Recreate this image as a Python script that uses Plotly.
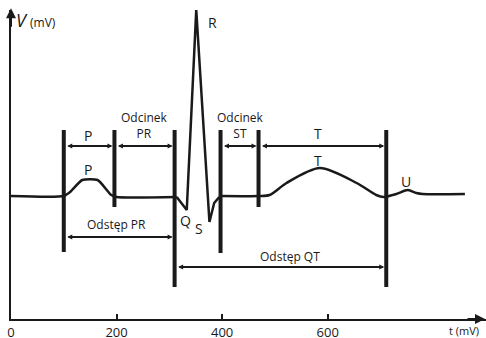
import plotly.graph_objects as go

# ECG trace (t in ms-ish units, v in mV-ish units)
p_t = [0, 100, 112, 135, 164, 190, 200, 314]
p_v = [0, 0, 0.04, 0.16, 0.16, 0.01, -0.01, -0.01]

qrs_t = [314, 333, 351, 376, 385, 393, 400]
qrs_v = [-0.01, -0.14, 1.86, -0.26, -0.07, -0.02, 0]

t_t = [400, 470, 490, 522, 585, 655, 692, 706, 730, 752, 768, 780, 860]
t_v = [0, 0, 0.01, 0.13, 0.28, 0.13, 0.01, -0.01, 0.02, 0.06, 0.03, 0.02, 0.02]

# vertical markers
bar_t = [100, 196, 310, 397, 469, 711]
bar_top = [0.66, 0.66, 0.66, 0.66, 0.66, 0.66]
bar_bottom = [-0.56, -0.11, -0.91, -0.57, -0.11, -0.91]

# interval arrows
int_start = [100, 196, 397, 469, 100, 310]
int_end = [196, 310, 469, 711, 310, 711]
int_v = [0.50, 0.50, 0.50, 0.50, -0.41, -0.71]

# labels
lab_text = ["P", "Odcinek<br>PR", "Odcinek<br>ST", "T", "P", "T", "U", "Q", "S", "R",
            "Odstęp PR", "Odstęp QT"]
lab_t = [145, 253, 434, 581, 145, 581, 749, 331, 357, 382, 200, 528]
lab_v = [0.61, 0.71, 0.71, 0.63, 0.27, 0.36, 0.15, -0.24, -0.32, 1.74, -0.28, -0.60]
lab_size = [14, 12, 12, 14, 14, 14, 14, 14, 14, 14, 12, 12]

tick_vals = [0, 200, 400, 600]

ink = "#1a1a1a"
font = "Open Sans"

fig = go.Figure()

fig.add_trace(go.Scatter(x=p_t, y=p_v, mode="lines",
                         line=dict(color=ink, width=2.5, shape="spline", smoothing=0.6)))
fig.add_trace(go.Scatter(x=qrs_t, y=qrs_v, mode="lines",
                         line=dict(color=ink, width=2.5)))
fig.add_trace(go.Scatter(x=t_t, y=t_v, mode="lines",
                         line=dict(color=ink, width=2.5, shape="spline", smoothing=0.8)))

for t, top, bot in zip(bar_t, bar_top, bar_bottom):
  fig.add_trace(go.Scatter(x=[t, t], y=[top, bot], mode="lines",
                           line=dict(color=ink, width=4)))

annotations = []
for a, b, v in zip(int_start, int_end, int_v):
  annotations.append(dict(
    x=b, y=v, ax=a, ay=v, xref="x", yref="y", axref="x", ayref="y",
    text="", showarrow=True, arrowhead=2, arrowside="end+start",
    arrowsize=0.5, arrowwidth=2, arrowcolor=ink, standoff=2, startstandoff=2
  ))

for txt, t, v, s in zip(lab_text, lab_t, lab_v, lab_size):
  annotations.append(dict(
    x=t, y=v, text=txt, showarrow=False,
    font=dict(family=font, size=s, color=ink)
  ))

# axis arrows (paper coords so they are not hidden at the range edge)
annotations.append(dict(x=0, y=1.006, ax=0, ay=20, xref="paper", yref="paper", text="",
                        showarrow=True, arrowhead=2, arrowsize=1, arrowwidth=2, arrowcolor=ink))
annotations.append(dict(x=1.0, y=0, ax=-20, ay=0, xref="paper", yref="paper", text="",
                        showarrow=True, arrowhead=2, arrowsize=1, arrowwidth=2, arrowcolor=ink))

annotations.append(dict(x=5, y=1.76, xanchor="left", text="<i>V</i>", showarrow=False,
                        font=dict(family=font, size=18, color=ink)))
annotations.append(dict(x=33, y=1.74, xanchor="left", text="(mV)", showarrow=False,
                        font=dict(family=font, size=12, color=ink)))
annotations.append(dict(x=0.99, y=-0.038, xref="paper", yref="paper",
                        xanchor="right", yanchor="middle",
                        text="t (mV)", showarrow=False,
                        font=dict(family=font, size=11, color=ink)))

fig.update_layout(
  width=486, height=338,
  margin=dict(l=11, r=0, t=10, b=19),
  paper_bgcolor="white", plot_bgcolor="white",
  showlegend=False,
  font=dict(family=font, size=13, color=ink),
  annotations=annotations,
  xaxis=dict(range=[0, 900], showgrid=False, zeroline=False, automargin=False,
             showline=True, linecolor=ink, linewidth=2,
             ticks="inside", ticklen=5, tickwidth=2, tickcolor=ink,
             tickvals=tick_vals, ticktext=[str(v) for v in tick_vals],
             ticklabelstandoff=0,
             tickfont=dict(family=font, size=13, color=ink)),
  yaxis=dict(range=[-1.23, 1.86], showgrid=False, zeroline=False, automargin=False,
             showline=True, linecolor=ink, linewidth=2,
             showticklabels=False, ticks="")
)

fig.write_html("out.html", config={"displayModeBar": False},
               post_script="document.body.style.margin='0';")
